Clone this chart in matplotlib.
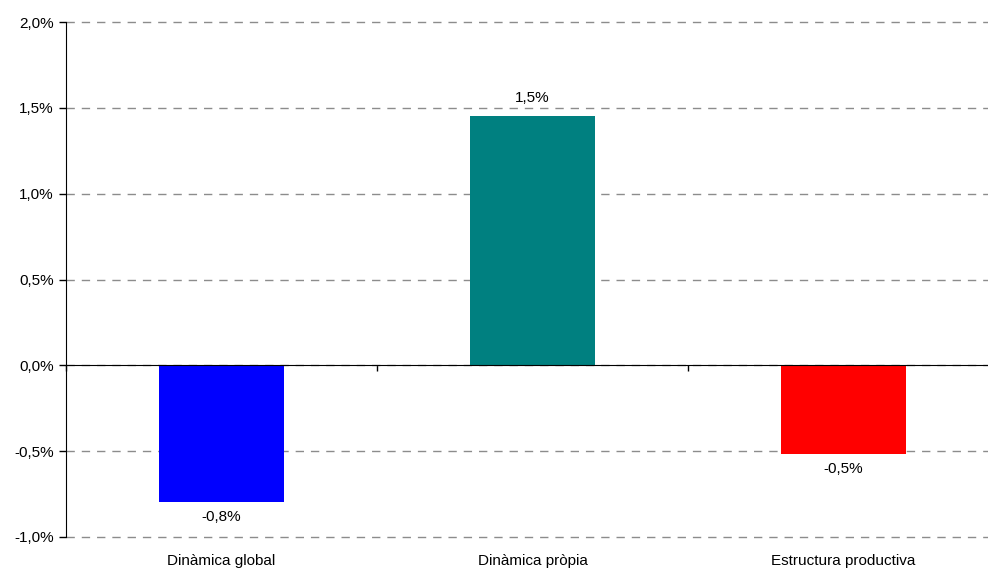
import matplotlib
matplotlib.use("Agg")
import matplotlib.pyplot as plt
from matplotlib.ticker import FuncFormatter

categories = ["Dinàmica global", "Dinàmica pròpia", "Estructura productiva"]
values = [-0.794, 1.452, -0.515]
colors = ["#0000FF", "#008080", "#FF0000"]
yticks = [-1.0, -0.5, 0.0, 0.5, 1.0, 1.5, 2.0]

plt.rcParams["font.family"] = ["Liberation Sans", "DejaVu Sans"]
plt.rcParams["font.size"] = 11

fig = plt.figure(figsize=(9.88, 5.68), dpi=100)
W, H = 988, 568
ax = fig.add_axes([66 / W, 1 - 537 / H, (999 - 66) / W, (537 - 22) / H])

x = list(range(len(categories)))
bars = ax.bar(x, values, width=0.405, color=colors, zorder=3)

ax.set_xlim(-0.5, 2.5)
ax.set_ylim(-1.0, 2.0)
ax.set_yticks(yticks)
ax.yaxis.set_major_formatter(FuncFormatter(lambda v, p: f"{v:.1f}%".replace(".", ",")))
ax.tick_params(axis="y", direction="out", length=5, width=1, pad=4, labelsize=11, colors="black")
ax.yaxis.grid(True, color="#8c8c8c", linestyle=(0, (6, 5)), linewidth=1)
ax.set_axisbelow(True)
for gl in ax.get_ygridlines():
    gl.set_clip_on(False)

for s in ["top", "right"]:
    ax.spines[s].set_visible(False)
ax.spines["left"].set_color("black")
ax.spines["bottom"].set_position(("data", 0))
ax.spines["bottom"].set_color("black")
ax.spines["bottom"].set_zorder(4)
ax.set_xticks([-0.5, 0.5, 1.5, 2.5])
ax.set_xticklabels([])
ax.tick_params(axis="x", direction="out", length=4, width=1, colors="black")

sec = ax.secondary_xaxis("bottom")
sec.set_xticks(x)
sec.set_xticklabels(categories)
sec.tick_params(axis="x", length=0, pad=12, labelsize=11)
sec.spines["bottom"].set_visible(False)

for xi, v in zip(x, values):
    lab = f"{v:.1f}%".replace(".", ",")
    if v >= 0:
        ax.annotate(lab, (xi, v), xytext=(0, 8), textcoords="offset points",
                    ha="center", va="bottom", fontsize=11)
    else:
        ax.annotate(lab, (xi, v), xytext=(0, -6), textcoords="offset points",
                    ha="center", va="top", fontsize=11)

fig.savefig("out.png", dpi=100)
